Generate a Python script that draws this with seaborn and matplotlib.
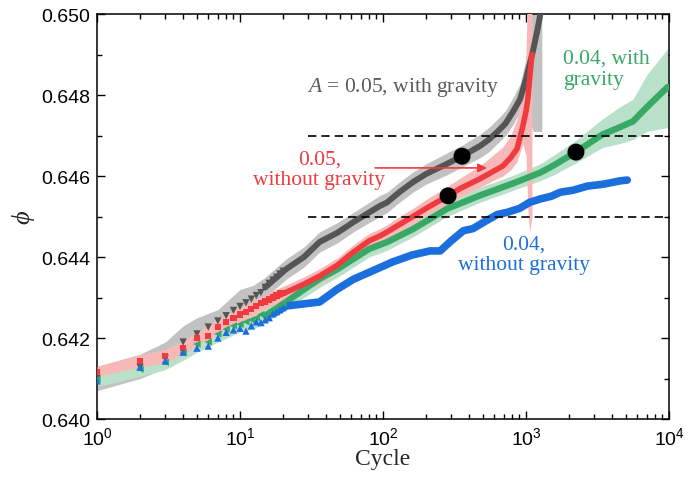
import matplotlib
matplotlib.use("Agg")
import matplotlib.pyplot as plt
import seaborn as sns
import numpy as np
from matplotlib.ticker import MultipleLocator, LogLocator, NullFormatter

# ---------------- data ----------------
mk_cycles = [1, 2, 3, 4, 5, 6, 7, 8, 9, 10, 11, 12, 13, 14, 15, 16, 17, 18,
             19, 20]

gray_mk = [0.64100, 0.64128, 0.64150, 0.64190, 0.64210, 0.64227, 0.64242,
           0.64255, 0.64268, 0.64278, 0.64287, 0.64296, 0.64305, 0.64312,
           0.64325, 0.64335, 0.64343, 0.64350, 0.64358, 0.64365]
red_mk = [0.64116, 0.64143, 0.64155, 0.64175, 0.64200, 0.64205, 0.64227,
          0.64240, 0.64250, 0.64258, 0.64265, 0.64272, 0.64280, 0.64287,
          0.64290, 0.64295, 0.64300, 0.64305, 0.64310, 0.64312]
green_mk = [0.64098, 0.64123, 0.64140, 0.64165, 0.64185, 0.64190, 0.64210,
            0.64222, 0.64230, 0.64234, 0.64240, 0.64245, 0.64250, 0.64258,
            0.64255, 0.64262, 0.64270, 0.64275, 0.64280, 0.64285]
blue_mk = [0.64094, 0.64128, 0.64143, 0.64165, 0.64175, 0.64180, 0.64200,
           0.64214, 0.64220, 0.64224, 0.64217, 0.64230, 0.64240, 0.64238,
           0.64245, 0.64250, 0.64260, 0.64265, 0.64270, 0.64275]

gray_c = [10, 12.4, 15, 21, 28, 36, 48, 62, 80, 95, 107, 130, 162, 200, 280,
          357, 476, 550, 630, 720, 815, 910, 1000, 1120, 1200, 1290]
gray_y = [0.64278, 0.64300, 0.64325, 0.64370, 0.64400, 0.64437, 0.64460,
          0.64486, 0.64510, 0.64526, 0.64535, 0.64560, 0.64585, 0.64605,
          0.64630, 0.64649, 0.64674, 0.64690, 0.64709, 0.64730, 0.64760,
          0.64790, 0.64840, 0.64910, 0.64960, 0.65020]
gray_lo = [0.64250, 0.64275, 0.64300, 0.64345, 0.64375, 0.64412, 0.64435,
           0.64462, 0.64485, 0.64500, 0.64510, 0.64535, 0.64560, 0.64580,
           0.64603, 0.64622, 0.64645, 0.64660, 0.64680, 0.64700, 0.64728,
           0.64760, 0.64770, 0.64710, 0.64710, 0.64710]
gray_hi = [0.64320, 0.64330, 0.64350, 0.64395, 0.64425, 0.64462, 0.64485,
           0.64510, 0.64535, 0.64552, 0.64560, 0.64585, 0.64610, 0.64630,
           0.64657, 0.64676, 0.64703, 0.64720, 0.64740, 0.64762, 0.64795,
           0.64828, 0.64890, 0.65050, 0.65100, 0.65100]
gray_band_c0 = [1, 2, 3, 4, 5, 7]
gray_band_lo0 = [0.64070, 0.64100, 0.64125, 0.64150, 0.64170, 0.64200]
gray_band_hi0 = [0.64130, 0.64160, 0.64190, 0.64230, 0.64250, 0.64270]

red_c = [10, 12.4, 15, 21, 28, 36, 48, 62, 80, 95, 107, 130, 162, 200, 285,
         350, 476, 580, 690, 780, 865, 950, 1000, 1030, 1060, 1100]
red_y = [0.64258, 0.64272, 0.64290, 0.64313, 0.64333, 0.64353, 0.64380,
         0.64412, 0.64440, 0.64452, 0.64462, 0.64480, 0.64500, 0.64520,
         0.64551, 0.64570, 0.64593, 0.64610, 0.64625, 0.64645, 0.64667,
         0.64723, 0.64760, 0.64790, 0.64840, 0.64900]
red_lo = [0.64240, 0.64255, 0.64272, 0.64295, 0.64315, 0.64335, 0.64362,
          0.64394, 0.64422, 0.64434, 0.64444, 0.64462, 0.64482, 0.64502,
          0.64532, 0.64550, 0.64572, 0.64588, 0.64600, 0.64615, 0.64635,
          0.64680, 0.64650, 0.64520, 0.64460, 0.64500]
red_hi = [0.64276, 0.64290, 0.64308, 0.64331, 0.64351, 0.64371, 0.64398,
          0.64430, 0.64458, 0.64470, 0.64480, 0.64500, 0.64520, 0.64542,
          0.64575, 0.64596, 0.64625, 0.64650, 0.64672, 0.64700, 0.64740,
          0.64800, 0.64900, 0.65100, 0.65100, 0.65100]
red_band_c0 = [1, 2, 3, 4, 5, 7]
red_band_lo0 = [0.64105, 0.64128, 0.64140, 0.64160, 0.64182, 0.64210]
red_band_hi0 = [0.64130, 0.64158, 0.64172, 0.64192, 0.64215, 0.64245]

green_c = [10, 12.4, 15, 21, 28, 36, 48, 62, 80, 107, 162, 280, 476, 815,
           1250, 1540, 2230, 3400, 4500, 5600, 7000, 9800]
green_y = [0.64234, 0.64240, 0.64255, 0.64289, 0.64320, 0.64346, 0.64370,
           0.64395, 0.64420, 0.64437, 0.64469, 0.64519, 0.64552, 0.64582,
           0.64608, 0.64625, 0.64659, 0.64702, 0.64720, 0.64735, 0.64770,
           0.64820]
green_lo = [0.64215, 0.64222, 0.64237, 0.64270, 0.64300, 0.64325, 0.64350,
            0.64375, 0.64400, 0.64417, 0.64450, 0.64500, 0.64535, 0.64565,
            0.64588, 0.64602, 0.64632, 0.64670, 0.64680, 0.64690, 0.64710,
            0.64720]
green_hi = [0.64255, 0.64262, 0.64277, 0.64310, 0.64342, 0.64368, 0.64392,
            0.64417, 0.64442, 0.64459, 0.64490, 0.64540, 0.64572, 0.64602,
            0.64630, 0.64650, 0.64688, 0.64740, 0.64770, 0.64790, 0.64850,
            0.64915]
green_band_c0 = [1, 2, 3, 4, 5, 7]
green_band_lo0 = [0.64080, 0.64105, 0.64122, 0.64145, 0.64165, 0.64190]
green_band_hi0 = [0.64105, 0.64135, 0.64155, 0.64180, 0.64200, 0.64228]

blue_c = [13, 17, 21, 27.5, 36, 47.6, 62, 81, 117, 160, 213, 251, 300, 365,
          425, 530, 630, 735, 900, 1060, 1250, 1500, 1740, 2140, 2680, 3500,
          4540, 5100]
blue_y = [0.64240, 0.64260, 0.64279, 0.64284, 0.64289, 0.64320, 0.64345,
          0.64363, 0.64388, 0.64405, 0.64415, 0.64415, 0.64440, 0.64465,
          0.64470, 0.64490, 0.64505, 0.64510, 0.64520, 0.64535, 0.64543,
          0.64550, 0.64560, 0.64565, 0.64575, 0.64580, 0.64588, 0.64590]

dash_levels = [0.647, 0.645]
dash_start, dash_end = 30, 1e4

dots_c = [357, 285, 2235]
dots_y = [0.64649, 0.64551, 0.64659]

# ---------------- style ----------------
sns.set_style("ticks")
plt.rcParams['font.family'] = ['Liberation Sans', 'DejaVu Sans']
plt.rcParams['mathtext.fontset'] = 'custom'
plt.rcParams['mathtext.it'] = 'Liberation Serif:italic'
plt.rcParams['mathtext.rm'] = 'Liberation Serif'

GRAY_L, GRAY_B = "#555555", "#c2c2c2"
RED_L, RED_B = "#ef3b3f", "#f8b8b8"
GREEN_L, GREEN_B = "#37a866", "#b9e0c8"
BLUE_L = "#1b6fdc"

fig = plt.figure(figsize=(6.91, 4.81), dpi=100)
ax = fig.add_axes([0.1404, 0.1268, 0.8278, 0.842])

# bands
ax.fill_between(gray_band_c0 + gray_c, gray_band_lo0 + gray_lo,
                gray_band_hi0 + gray_hi, color=GRAY_B, lw=0, zorder=1)
ax.fill_between(green_band_c0 + green_c, green_band_lo0 + green_lo,
                green_band_hi0 + green_hi, color=GREEN_B, lw=0, zorder=2)
ax.fill_between(red_band_c0 + red_c, red_band_lo0 + red_lo,
                red_band_hi0 + red_hi, color=RED_B, lw=0, zorder=3)

# lines (start where the per-cycle markers merge)
sns.lineplot(x=gray_c[2:], y=gray_y[2:], ax=ax, color=GRAY_L, lw=4.3,
             sort=False, estimator=None, zorder=4)
sns.lineplot(x=green_c[2:], y=green_y[2:], ax=ax, color=GREEN_L, lw=4.6,
             sort=False, estimator=None, zorder=5)
sns.lineplot(x=red_c[2:], y=red_y[2:], ax=ax, color=RED_L, lw=4.0,
             sort=False, estimator=None, zorder=6)
sns.lineplot(x=blue_c[1:], y=blue_y[1:], ax=ax, color=BLUE_L, lw=5.5,
             sort=False, estimator=None, zorder=7)

# markers at early cycles
sns.scatterplot(x=mk_cycles, y=gray_mk, ax=ax, marker='v', s=28,
                color=GRAY_L, edgecolor='none', zorder=8)
sns.scatterplot(x=mk_cycles, y=green_mk, ax=ax, marker='<', s=28,
                color=GREEN_L, edgecolor='none', zorder=9)
sns.scatterplot(x=mk_cycles, y=red_mk, ax=ax, marker='s', s=20,
                color=RED_L, edgecolor='none', zorder=10)
sns.scatterplot(x=mk_cycles, y=blue_mk, ax=ax, marker='^', s=28,
                color=BLUE_L, edgecolor='none', zorder=11)

# dashed reference lines
ax.hlines(dash_levels, dash_start, dash_end, colors='black',
          linestyles=(0, (5, 3)), lw=1.2, zorder=12)

# black dots
sns.scatterplot(x=dots_c, y=dots_y, ax=ax, s=150, color='black',
                edgecolor='none', zorder=13)

# annotations
serif = ['Liberation Serif', 'DejaVu Serif']
ax.text(138, 0.6482, r"$\mathit{A}$ = 0.05, with gravity", color="#5a5a5a",
        fontsize=15.5, family=serif, ha='center', va='center', zorder=14)
ax.text(35.8, 0.64617, "0.05,\nwithout gravity", color=RED_L,
        fontsize=15.5, family=serif, ha='center', va='center',
        multialignment='center', linespacing=1.15, zorder=14)
ax.text(1815, 0.64864, "0.04, with\ngravity", color=GREEN_L,
        fontsize=15.5, family=serif, ha='left', va='center',
        multialignment='left', linespacing=1.15, zorder=14)
ax.text(968, 0.64407, "0.04,\nwithout gravity", color=BLUE_L,
        fontsize=15.5, family=serif, ha='center', va='center',
        multialignment='center', linespacing=1.15, zorder=14)
ax.annotate("", xy=(533, 0.6462), xytext=(88, 0.6462),
            arrowprops=dict(arrowstyle='-|>', color=RED_L, lw=1.2,
                            mutation_scale=13, shrinkA=0, shrinkB=0),
            zorder=14)

# axes
ax.set_xscale('log')
ax.set_xlim(1, 1e4)
ax.set_ylim(0.640, 0.650)
ax.yaxis.set_major_locator(MultipleLocator(0.002))
ax.yaxis.set_minor_locator(MultipleLocator(0.001))
ax.yaxis.set_major_formatter(matplotlib.ticker.FormatStrFormatter('%.3f'))
ax.xaxis.set_major_locator(LogLocator(base=10, numticks=10))
ax.xaxis.set_minor_locator(LogLocator(base=10, subs=np.arange(2, 10), numticks=20))
ax.xaxis.set_minor_formatter(NullFormatter())
ax.tick_params(which='both', direction='in', top=True, right=True,
               width=1.0, labelsize=14, colors='black')
ax.tick_params(which='major', length=6, pad=5)
ax.tick_params(which='minor', length=3.5)
for sp in ax.spines.values():
    sp.set_linewidth(1.1)
    sp.set_color('black')
    sp.set_visible(True)

ax.set_xlabel("Cycle", family=serif, fontsize=17, labelpad=0)
ax.set_ylabel("ϕ", family=serif, fontstyle='italic', fontsize=19, labelpad=5)

fig.savefig("out.png", dpi=100)
